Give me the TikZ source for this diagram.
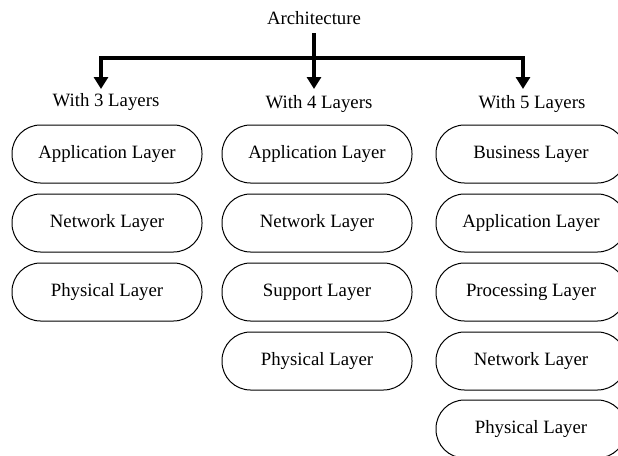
\documentclass[tikz,border=0pt]{standalone}
\usepackage{fontspec}
\setmainfont{Liberation Serif}
\usetikzlibrary{arrows.meta}
\begin{document}
\begin{tikzpicture}[x=1pt,y=-1pt,
  layerbox/.style={draw=black,line width=1pt,rounded corners=28.5pt,minimum width=190pt,minimum height=58pt,inner sep=0pt,font=\fontsize{18.8}{22}\selectfont},
  lbl/.style={inner sep=0pt,font=\fontsize{18.8}{22}\selectfont},
  conn/.style={line width=3.3pt,line join=miter},
  tip/.style={-{Triangle[width=14pt,length=12pt]}}]
\useasboundingbox (0,0) rectangle (618,455);
\node[lbl] (arch) at (314,18) {Architecture};
\coordinate (top) at (314,33);
\coordinate (j) at (314,58);
\coordinate (t3) at (101,89);
\coordinate (t4) at (314,89);
\coordinate (t5) at (523,89);
\draw[conn] (top) -- (j);
\draw[conn,tip] (j) -| (t3);
\draw[conn,tip] (j) -- (t4);
\draw[conn,tip] (j) -| (t5);
\node[lbl] (w3) at (106,102) {With 3 Layers};
\node[lbl] (w4) at (319,104) {With 4 Layers};
\node[lbl] (w5) at (532,104) {With 5 Layers};
% column 1
\node[layerbox] (a1) at (107,154) {Application Layer};
\node[layerbox] (a2) at (107,223) {Network Layer};
\node[layerbox] (a3) at (107,292) {Physical Layer};
% column 2
\node[layerbox] (b1) at (317,154) {Application Layer};
\node[layerbox] (b2) at (317,223) {Network Layer};
\node[layerbox] (b3) at (317,292) {Support Layer};
\node[layerbox] (b4) at (317,361) {Physical Layer};
% column 3
\node[layerbox] (c1) at (531,154) {Business Layer};
\node[layerbox] (c2) at (531,223) {Application Layer};
\node[layerbox] (c3) at (531,292) {Processing Layer};
\node[layerbox] (c4) at (531,361) {Network Layer};
\node[layerbox] (c5) at (531,429) {Physical Layer};
\end{tikzpicture}
\end{document}
